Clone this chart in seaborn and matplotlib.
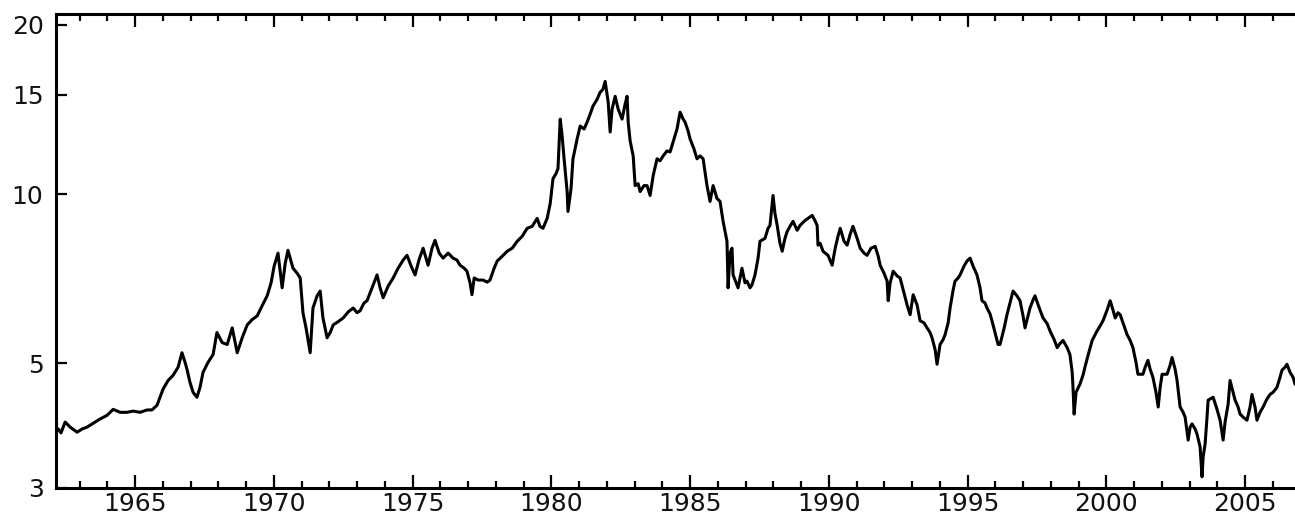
import matplotlib
matplotlib.use("Agg")
import matplotlib.pyplot as plt
import numpy as np
import pandas as pd
import seaborn as sns
from matplotlib.ticker import FixedLocator, FixedFormatter, MultipleLocator, NullLocator

# Long-term interest rate (percent), weekly-ish readings, 1962-2006
years = [
    1962.23, 1962.33, 1962.48, 1962.66, 1962.91, 1963.09, 1963.27, 1963.49, 1963.74, 1963.99,
    1964.21, 1964.46, 1964.71, 1964.93, 1965.18, 1965.43, 1965.61, 1965.79, 1966.01, 1966.19,
    1966.37, 1966.55, 1966.69, 1966.80, 1966.87, 1966.98, 1967.09, 1967.23, 1967.34, 1967.45,
    1967.63, 1967.81, 1967.95, 1968.14, 1968.32, 1968.50, 1968.68, 1968.86, 1969.04, 1969.22,
    1969.40, 1969.58, 1969.76, 1969.90, 1970.01, 1970.15, 1970.30, 1970.41, 1970.51, 1970.69,
    1970.84, 1970.95, 1971.05, 1971.16, 1971.31, 1971.41, 1971.56, 1971.67, 1971.77, 1971.92,
    1972.03, 1972.14, 1972.32, 1972.50, 1972.68, 1972.86, 1973.00, 1973.11, 1973.25, 1973.36,
    1973.54, 1973.72, 1973.83, 1973.94, 1974.12, 1974.30, 1974.48, 1974.66, 1974.80, 1974.95,
    1975.09, 1975.23, 1975.38, 1975.56, 1975.70, 1975.81, 1975.96, 1976.10, 1976.28, 1976.46,
    1976.60, 1976.71, 1976.86, 1976.96, 1977.07, 1977.14, 1977.22, 1977.36, 1977.54, 1977.69,
    1977.79, 1977.94, 1978.05, 1978.23, 1978.41, 1978.59, 1978.77, 1978.95, 1979.13, 1979.31,
    1979.49, 1979.59, 1979.70, 1979.85, 1979.96, 1980.06, 1980.17, 1980.24, 1980.32, 1980.39,
    1980.46, 1980.57, 1980.60, 1980.71, 1980.78, 1980.93, 1981.04, 1981.18, 1981.29, 1981.40,
    1981.50, 1981.65, 1981.76, 1981.86, 1981.94, 1982.05, 1982.12, 1982.19, 1982.30, 1982.41,
    1982.55, 1982.66, 1982.73, 1982.77, 1982.84, 1982.95, 1983.02, 1983.13, 1983.20, 1983.34,
    1983.45, 1983.56, 1983.67, 1983.81, 1983.92, 1984.03, 1984.17, 1984.28, 1984.42, 1984.53,
    1984.64, 1984.75, 1984.82, 1984.93, 1985.00, 1985.14, 1985.25, 1985.36, 1985.47, 1985.61,
    1985.72, 1985.83, 1985.97, 1986.08, 1986.19, 1986.33, 1986.37, 1986.44, 1986.51, 1986.55,
    1986.66, 1986.73, 1986.87, 1986.98, 1987.05, 1987.16, 1987.23, 1987.34, 1987.45, 1987.52,
    1987.70, 1987.81, 1987.88, 1987.99, 1988.06, 1988.14, 1988.24, 1988.32, 1988.42, 1988.50,
    1988.60, 1988.71, 1988.86, 1988.96, 1989.14, 1989.25, 1989.40, 1989.50, 1989.58, 1989.61,
    1989.69, 1989.79, 1989.97, 1990.12, 1990.23, 1990.33, 1990.41, 1990.55, 1990.66, 1990.77,
    1990.87, 1991.02, 1991.13, 1991.27, 1991.38, 1991.52, 1991.67, 1991.78, 1991.85, 1991.99,
    1992.10, 1992.14, 1992.21, 1992.32, 1992.46, 1992.57, 1992.71, 1992.82, 1992.93, 1993.04,
    1993.18, 1993.29, 1993.43, 1993.54, 1993.65, 1993.72, 1993.83, 1993.90, 1994.01, 1994.12,
    1994.19, 1994.30, 1994.37, 1994.48, 1994.55, 1994.66, 1994.73, 1994.87, 1994.98, 1995.09,
    1995.20, 1995.34, 1995.45, 1995.52, 1995.63, 1995.70, 1995.81, 1995.88, 1995.99, 1996.10,
    1996.17, 1996.32, 1996.42, 1996.53, 1996.64, 1996.78, 1996.89, 1997.00, 1997.07, 1997.18,
    1997.25, 1997.36, 1997.43, 1997.61, 1997.72, 1997.87, 1997.97, 1998.12, 1998.23, 1998.33,
    1998.44, 1998.59, 1998.69, 1998.77, 1998.80, 1998.84, 1998.91, 1999.05, 1999.16, 1999.23,
    1999.34, 1999.49, 1999.67, 1999.78, 1999.88, 2000.03, 2000.14, 2000.24, 2000.32, 2000.42,
    2000.50, 2000.64, 2000.75, 2000.86, 2000.96, 2001.07, 2001.14, 2001.32, 2001.40, 2001.50,
    2001.58, 2001.68, 2001.79, 2001.87, 2001.94, 2002.01, 2002.19, 2002.30, 2002.37, 2002.48,
    2002.55, 2002.62, 2002.66, 2002.77, 2002.84, 2002.95, 2003.02, 2003.09, 2003.20, 2003.27,
    2003.38, 2003.45, 2003.49, 2003.56, 2003.63, 2003.67, 2003.85, 2003.99, 2004.10, 2004.21,
    2004.28, 2004.39, 2004.46, 2004.57, 2004.64, 2004.75, 2004.82, 2004.93, 2005.07, 2005.18,
    2005.25, 2005.36, 2005.43, 2005.54, 2005.65, 2005.79, 2005.90, 2006.01, 2006.15, 2006.26,
    2006.33, 2006.44, 2006.51, 2006.62, 2006.73, 2006.80,
]

rates = [
    3.82, 3.76, 3.93, 3.85, 3.77, 3.82, 3.85, 3.91, 3.98, 4.04,
    4.14, 4.09, 4.09, 4.11, 4.09, 4.13, 4.13, 4.21, 4.50, 4.66,
    4.76, 4.92, 5.22, 5.02, 4.88, 4.62, 4.44, 4.35, 4.53, 4.82,
    5.02, 5.18, 5.67, 5.44, 5.40, 5.78, 5.22, 5.55, 5.85, 5.98,
    6.07, 6.33, 6.59, 6.95, 7.44, 7.85, 6.81, 7.53, 7.94, 7.38,
    7.23, 7.09, 6.15, 5.78, 5.22, 6.27, 6.59, 6.72, 6.02, 5.55,
    5.67, 5.85, 5.93, 6.02, 6.17, 6.27, 6.15, 6.20, 6.40, 6.46,
    6.81, 7.18, 6.81, 6.54, 6.86, 7.09, 7.38, 7.63, 7.78, 7.44,
    7.18, 7.63, 8.01, 7.47, 8.01, 8.27, 7.85, 7.69, 7.85, 7.69,
    7.63, 7.47, 7.38, 7.29, 6.95, 6.62, 7.09, 7.03, 7.03, 6.97,
    7.03, 7.38, 7.60, 7.75, 7.91, 8.01, 8.24, 8.41, 8.69, 8.76,
    9.05, 8.76, 8.69, 9.05, 9.62, 10.65, 10.87, 11.09, 13.59, 12.68,
    11.55, 10.10, 9.31, 10.22, 11.55, 12.53, 13.21, 13.05, 13.42, 13.87,
    14.33, 14.74, 15.17, 15.35, 15.86, 14.56, 12.89, 14.15, 14.92, 14.15,
    13.59, 14.45, 14.92, 13.42, 12.43, 11.69, 10.35, 10.43, 10.10, 10.35,
    10.35, 9.94, 10.78, 11.55, 11.46, 11.69, 11.93, 11.88, 12.53, 13.05,
    13.98, 13.59, 13.42, 12.94, 12.53, 12.03, 11.55, 11.69, 11.55, 10.35,
    9.70, 10.35, 9.82, 9.70, 8.94, 8.24, 6.81, 7.85, 8.01, 7.18,
    6.95, 6.81, 7.38, 6.95, 7.00, 6.81, 6.89, 7.18, 7.69, 8.24,
    8.34, 8.69, 8.79, 9.94, 9.23, 8.79, 8.17, 7.91, 8.34, 8.58,
    8.76, 8.94, 8.62, 8.79, 8.97, 9.05, 9.16, 8.97, 8.79, 8.11,
    8.17, 7.91, 7.78, 7.47, 8.01, 8.41, 8.69, 8.24, 8.11, 8.48,
    8.76, 8.34, 8.01, 7.85, 7.78, 8.01, 8.07, 7.75, 7.47, 7.23,
    7.00, 6.46, 6.95, 7.29, 7.15, 7.09, 6.67, 6.35, 6.10, 6.62,
    6.35, 5.95, 5.90, 5.78, 5.67, 5.55, 5.29, 4.98, 5.40, 5.51,
    5.62, 5.90, 6.27, 6.75, 7.00, 7.09, 7.18, 7.44, 7.60, 7.69,
    7.44, 7.18, 6.81, 6.46, 6.40, 6.27, 6.12, 5.95, 5.67, 5.40,
    5.40, 5.78, 6.10, 6.40, 6.72, 6.59, 6.46, 6.07, 5.78, 6.07,
    6.27, 6.48, 6.59, 6.22, 6.02, 5.88, 5.71, 5.51, 5.33, 5.42,
    5.49, 5.33, 5.18, 4.82, 4.53, 4.06, 4.44, 4.59, 4.76, 4.92,
    5.16, 5.49, 5.71, 5.83, 5.95, 6.22, 6.46, 6.22, 6.02, 6.15,
    6.10, 5.83, 5.62, 5.49, 5.33, 5.02, 4.78, 4.78, 4.92, 5.06,
    4.88, 4.72, 4.44, 4.18, 4.53, 4.78, 4.78, 4.96, 5.12, 4.88,
    4.66, 4.35, 4.18, 4.09, 4.01, 3.65, 3.85, 3.90, 3.82, 3.74,
    3.55, 3.14, 3.41, 3.59, 4.01, 4.30, 4.35, 4.14, 3.96, 3.65,
    3.93, 4.23, 4.66, 4.44, 4.30, 4.18, 4.06, 4.01, 3.96, 4.18,
    4.40, 4.18, 3.96, 4.09, 4.18, 4.32, 4.40, 4.44, 4.53, 4.72,
    4.86, 4.92, 4.98, 4.82, 4.72, 4.59,
]

year_ticks = [1965, 1970, 1975, 1980, 1985, 1990, 1995, 2000, 2005]
year_labels = ["1965", "1970", "1975", "1980", "1985", "1990", "1995", "2000", "2005"]
rate_ticks = [3, 5, 10, 15, 20]
rate_labels = ["3", "5", "10", "15", "20"]

sns.set_theme(style="white")
plt.rcParams["font.family"] = ["DejaVu Sans"]

W, H = 1295, 524
fig = plt.figure(figsize=(W / 100, H / 100), dpi=100)
fig.patch.set_facecolor("white")
ax = fig.add_axes([56 / W, 36 / H, 1 - 56 / W, 474 / H])
ax.set_facecolor("white")

df = pd.DataFrame({"year": years, "rate": rates})
sns.lineplot(data=df, x="year", y="rate", ax=ax, color="black",
             linewidth=2.2, estimator=None, sort=False)

ax.set_yscale("log")
ax.set_ylim(3, 20.9)
ax.set_xlim(1962.15, 2006.80)
ax.set_xlabel("")
ax.set_ylabel("")

ax.yaxis.set_major_locator(FixedLocator(rate_ticks))
ax.yaxis.set_major_formatter(FixedFormatter(rate_labels))
ax.yaxis.set_minor_locator(NullLocator())
ax.xaxis.set_major_locator(FixedLocator(year_ticks))
ax.xaxis.set_major_formatter(FixedFormatter(year_labels))
ax.xaxis.set_minor_locator(MultipleLocator(1))

for side in ("left", "top", "bottom"):
    ax.spines[side].set_visible(True)
    ax.spines[side].set_color("black")
    ax.spines[side].set_linewidth(2.2)
ax.spines["right"].set_visible(False)

ax.tick_params(axis="x", which="major", direction="in", top=True, bottom=True,
               length=9.5, width=1.6, color="black", pad=3, labelsize=18,
               labelcolor="#111111")
ax.tick_params(axis="x", which="minor", direction="in", top=True, bottom=True,
               length=5, width=1.6, color="black")
ax.tick_params(axis="y", which="major", direction="in", left=True, right=False,
               length=8, width=1.6, color="black", pad=9, labelsize=18,
               labelcolor="#111111")

fig.savefig("out.png", dpi=100, facecolor="white")
